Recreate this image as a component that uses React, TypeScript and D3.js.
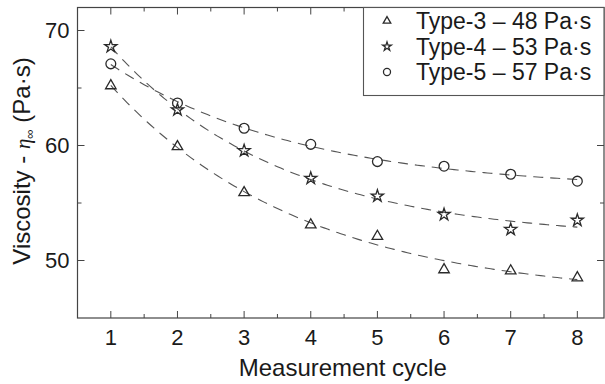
import React from "react";
import * as d3 from "d3";

const cycles = [1, 2, 3, 4, 5, 6, 7, 8];
const type3 = [65.2, 59.9, 55.9, 53.1, 52.1, 49.2, 49.1, 48.5];
const type4 = [68.6, 63.1, 59.55, 57.15, 55.6, 54.0, 52.7, 53.5];
const type5 = [67.1, 63.7, 61.5, 60.1, 58.6, 58.2, 57.5, 56.9];
const seriesNames = ["Type-3 – 48 Pa·s", "Type-4 – 53 Pa·s", "Type-5 – 57 Pa·s"];
const seriesSymbols = ["triangle", "star", "circle"];
const xTicks = [1, 2, 3, 4, 5, 6, 7, 8];
const xMinor = [1.5, 2.5, 3.5, 4.5, 5.5, 6.5, 7.5];
const yTicks = [50, 60, 70];
const yMinor = [55, 65];

const W = 605, H = 384;
const M = { left: 77.5, right: 604, top: 7.5, bottom: 318 };
const FONT = "'Liberation Sans', Arial, sans-serif";
const INK = "#2a2a2a";

// exponential decay fit y = a + b*exp(-c*x), computed from the data
function fitExp(xs: number[], ys: number[]) {
  let best = { a: 0, b: 0, c: 0, sse: Infinity };
  for (let c = 0.02; c <= 2; c += 0.002) {
    const f = xs.map((x) => Math.exp(-c * x));
    const n = xs.length;
    const mf = d3.mean(f)!, my = d3.mean(ys)!;
    let sfy = 0, sff = 0;
    for (let i = 0; i < n; i++) { sfy += (f[i] - mf) * (ys[i] - my); sff += (f[i] - mf) ** 2; }
    const b = sfy / sff, a = my - b * mf;
    let sse = 0;
    for (let i = 0; i < n; i++) sse += (ys[i] - (a + b * f[i])) ** 2;
    if (sse < best.sse) best = { a, b, c, sse };
  }
  return best;
}

function Marker({ kind, x, y, scale = 1 }: { kind: string; x: number; y: number; scale?: number }) {
  if (kind === "circle") {
    return <circle cx={x} cy={y} r={4.9 * scale} fill="none" stroke={INK} strokeWidth={1.3} />;
  }
  const sym = kind === "star" ? d3.symbolStar : d3.symbolTriangle;
  const size = kind === "star" ? 46 : 48;
  const d = d3.symbol().type(sym).size(size * scale * scale)()!;
  return <path d={d} transform={`translate(${x},${y})`} fill="none" stroke={INK} strokeWidth={1.3} strokeLinejoin="miter" />;
}

export default function App() {
  const x = d3.scaleLinear().domain([0.5, 8.4]).range([M.left, M.right]);
  const y = d3.scaleLinear().domain([45, 72]).range([M.bottom, M.top]);
  const all = [type3, type4, type5];
  const fine = d3.range(1, 8.0001, 0.05);
  const line = d3.line<[number, number]>().x((d) => x(d[0])).y((d) => y(d[1])).curve(d3.curveLinear);

  return (
    <svg width={W} height={H} style={{ position: "absolute", left: 0, top: 0, background: "#fff" }} fontFamily={FONT}>
      <rect x={0} y={0} width={W} height={H} fill="#fff" />
      {/* fit curves */}
      {all.map((ys, i) => {
        const p = fitExp(cycles, ys);
        const pts = fine.map((t) => [t, p.a + p.b * Math.exp(-p.c * t)] as [number, number]);
        return <path key={"f" + i} d={line(pts)!} fill="none" stroke="#555" strokeWidth={1.1} strokeDasharray="10,7" />;
      })}
      {/* markers */}
      {all.map((ys, i) =>
        ys.map((v, j) => <Marker key={`m${i}-${j}`} kind={seriesSymbols[i]} x={x(cycles[j])} y={y(v)} />)
      )}
      {/* frame */}
      <rect x={M.left} y={M.top} width={M.right - M.left} height={M.bottom - M.top} fill="none" stroke="#444" strokeWidth={1.2} />
      {xTicks.map((t) => (
        <g key={"xt" + t}>
          <line x1={x(t)} x2={x(t)} y1={M.bottom} y2={M.bottom - 7} stroke="#444" />
          <line x1={x(t)} x2={x(t)} y1={M.top} y2={M.top + 7} stroke="#444" />
          <text x={x(t)} y={M.bottom + 27} textAnchor="middle" fontSize={22} fill="#1a1a1a">{t}</text>
        </g>
      ))}
      {xMinor.map((t) => (
        <g key={"xm" + t}>
          <line x1={x(t)} x2={x(t)} y1={M.bottom} y2={M.bottom - 4} stroke="#444" />
          <line x1={x(t)} x2={x(t)} y1={M.top} y2={M.top + 4} stroke="#444" />
        </g>
      ))}
      {yTicks.map((t) => (
        <g key={"yt" + t}>
          <line x1={M.left} x2={M.left + 7} y1={y(t)} y2={y(t)} stroke="#444" />
          <line x1={M.right} x2={M.right - 7} y1={y(t)} y2={y(t)} stroke="#444" />
          <text x={M.left - 8} y={y(t)} dy="0.36em" textAnchor="end" fontSize={22} fill="#1a1a1a">{t}</text>
        </g>
      ))}
      {yMinor.map((t) => (
        <g key={"ym" + t}>
          <line x1={M.left} x2={M.left + 4} y1={y(t)} y2={y(t)} stroke="#444" />
          <line x1={M.right} x2={M.right - 4} y1={y(t)} y2={y(t)} stroke="#444" />
        </g>
      ))}
      {/* axis titles */}
      <text x={(M.left + M.right) / 2 + 2} y={376} textAnchor="middle" fontSize={24} fill="#1a1a1a">Measurement cycle</text>
      <text transform={`translate(30,161) rotate(-90)`} textAnchor="middle" fontSize={24} fill="#1a1a1a">
        Viscosity -{" "}
        <tspan fontFamily="'Liberation Serif', serif" fontStyle="italic" fontSize={21}>η</tspan>
        <tspan fontSize={13} dy={4}>∞</tspan>
        <tspan dy={-4}> (Pa·s)</tspan>
      </text>
      {/* legend */}
      <rect x={363.5} y={M.top} width={M.right - 363.5} height={88} fill="#fff" stroke="#555" strokeWidth={1.1} />
      {seriesNames.map((name, i) => (
        <g key={"l" + i}>
          <Marker kind={seriesSymbols[i]} x={387} y={21 + i * 25.5} scale={0.72} />
          <text x={416} y={21 + i * 25.5} dy="0.36em" fontSize={23} fill="#1a1a1a">{name}</text>
        </g>
      ))}
    </svg>
  );
}
